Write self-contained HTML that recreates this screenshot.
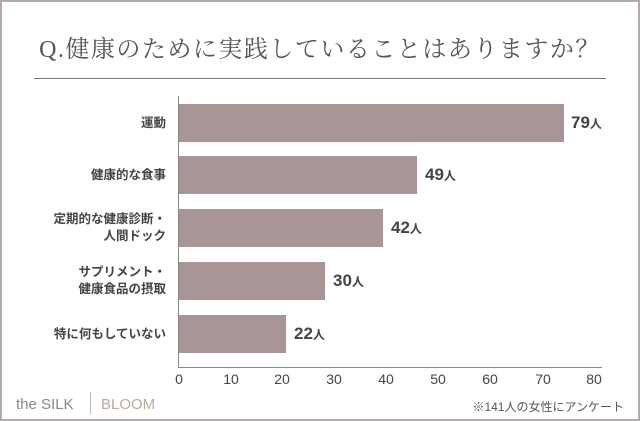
<!DOCTYPE html><html><head><meta charset="utf-8"><style>
body{margin:0;width:640px;height:421px;overflow:hidden;background:#fff;font-family:"Liberation Sans","Noto Sans CJK JP",sans-serif}
.f{position:absolute;left:0;top:0;width:636px;height:417px;border:2px solid #b3a8aa;background:#fff}
.t{position:absolute;top:29px;left:0;width:640px;text-align:center;font-family:"Liberation Serif","Noto Serif CJK SC",serif;font-size:24px;color:#555;letter-spacing:1.5px}
.hr{position:absolute;left:34px;top:78px;width:572px;height:1px;background:#777}
.bar{position:absolute;left:179px;height:38px;background:#a89596}
.lb{position:absolute;right:474px;font-size:12.5px;font-weight:bold;color:#444;text-align:right;line-height:17px}
.v{position:absolute;font-size:17px;font-weight:bold;color:#444}
.v small{font-size:12px}
.tk{position:absolute;top:371px;font-size:14px;color:#444;width:30px;margin-left:-15px;text-align:center}
</style></head><body><div class="f"></div>
<div class="t">Q.健康のために実践していることはありますか？</div>
<div class="hr"></div>
<div style="position:absolute;left:178px;top:96px;width:1px;height:272px;background:#888"></div>
<div style="position:absolute;left:178px;top:367px;width:424px;height:1px;background:#888"></div>
<div class="bar" style="top:104px;width:385px"></div>
<div class="bar" style="top:156px;width:238px"></div>
<div class="bar" style="top:209px;width:204px"></div>
<div class="bar" style="top:262px;width:146px"></div>
<div class="bar" style="top:315px;width:107px"></div>
<div class="lb" style="top:115px">運動</div>
<div class="lb" style="top:167px">健康的な食事</div>
<div class="lb" style="top:211px">定期的な健康診断・<br>人間ドック</div>
<div class="lb" style="top:264px">サプリメント・<br>健康食品の摂取</div>
<div class="lb" style="top:326px">特に何もしていない</div>
<div class="v" style="left:571px;top:113px">79<small>人</small></div>
<div class="v" style="left:425px;top:165px">49<small>人</small></div>
<div class="v" style="left:391px;top:218px">42<small>人</small></div>
<div class="v" style="left:333px;top:271px">30<small>人</small></div>
<div class="v" style="left:294px;top:324px">22<small>人</small></div>
<div class="tk" style="left:179px">0</div><div class="tk" style="left:231px">10</div><div class="tk" style="left:282px">20</div><div class="tk" style="left:334px">30</div><div class="tk" style="left:386px">40</div><div class="tk" style="left:438px">50</div><div class="tk" style="left:490px">60</div><div class="tk" style="left:543px">70</div><div class="tk" style="left:594px">80</div>
<div style="position:absolute;left:16px;top:396px;font-size:15px;color:#888">the SILK</div>
<div style="position:absolute;left:90px;top:392px;width:1px;height:22px;background:#bbb"></div>
<div style="position:absolute;left:101px;top:396px;font-size:15px;color:#b8aba0">BLOOM</div>
<div style="position:absolute;right:16px;top:398px;font-size:12px;color:#555">※141人の女性にアンケート</div>
</body></html>
